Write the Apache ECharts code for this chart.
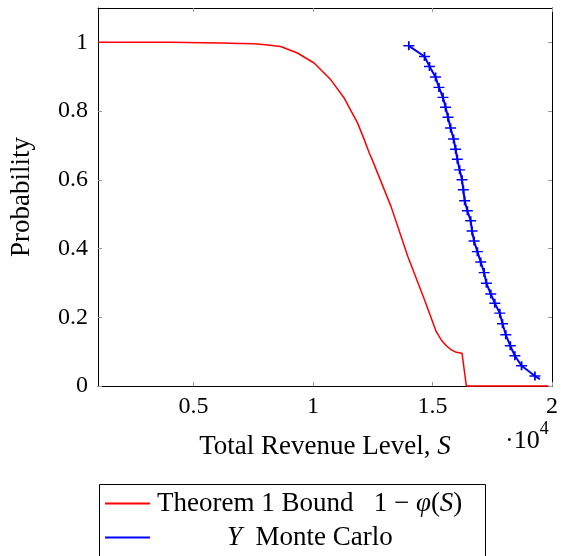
<!DOCTYPE html>
<html>
<head>
<meta charset="utf-8">
<script src="https://cdn.jsdelivr.net/npm/echarts@6/dist/echarts.min.js"></script>
<style>
html,body{margin:0;padding:0;background:#fff;}
#chart{width:562px;height:556px;}
</style>
</head>
<body>
<div id="chart"></div>
<script>
// Red: Theorem 1 bound 1 - phi(S)
const redS = [1000, 4000, 6122, 7000, 7521, 8000, 8643, 9345, 10042, 10744, 11303, 11866, 12143, 12353, 12479, 13265, 13966, 14664, 15156, 15366, 15576, 15786, 15996, 16235, 16416, 19849];
const redP = [1, 1, 0.998, 0.997, 0.996, 0.993, 0.988, 0.969, 0.940, 0.891, 0.838, 0.765, 0.717, 0.678, 0.658, 0.522, 0.377, 0.251, 0.158, 0.134, 0.117, 0.105, 0.098, 0.095, 0, 0];
// Blue: Y Monte Carlo
const blueS = [14008, 14664, 14874, 15126, 15269, 15437, 15546, 15647, 15756, 15882, 15966, 16038, 16134, 16235, 16290, 16345, 16458, 16597, 16655, 16739, 16878, 17017, 17160, 17256, 17437, 17605, 17815, 17929, 18067, 18255, 18445, 18727, 19286, 19496];
const blueP = [0.990, 0.959, 0.930, 0.899, 0.869, 0.840, 0.811, 0.782, 0.751, 0.719, 0.689, 0.660, 0.629, 0.600, 0.571, 0.539, 0.510, 0.481, 0.451, 0.422, 0.391, 0.361, 0.330, 0.299, 0.268, 0.241, 0.212, 0.181, 0.149, 0.117, 0.088, 0.059, 0.029, 0.020];
// Ticks
const xTicks = [5000, 10000, 15000, 20000];
const yTicks = [0, 0.2, 0.4, 0.6, 0.8, 1];
const xRange = [1000, 20000];
const yRange = [0, 1.1];

const FONT = '"Liberation Serif", "DejaVu Serif", serif';
const FS = 27;      // text size
const TFS = 24;     // tick label size
const redName = 'Theorem 1 Bound';
const blueName = 'Y Monte Carlo';

const zip = (a, b) => a.map((v, i) => [v, b[i]]);
const plus = 'path://M0,4.2H4.2V0H5.8V4.2H10V5.8H5.8V10H4.2V5.8H0Z';

const tickStyle = {show: true, inside: true, length: 4, lineStyle: {color: '#999', width: 1}};
const lineStyleAxis = {show: true, onZero: false, lineStyle: {color: '#000', width: 1}};

const blueData = zip(blueS, blueP).map((p, i, arr) =>
  i === arr.length - 1 ? {value: p, symbol: 'none'} : p);

const chart = echarts.init(document.getElementById('chart'), null, {renderer: 'canvas'});
const richText = {
  i: {fontFamily: FONT, fontSize: FS, fontStyle: 'italic', color: '#000'},
  n: {fontFamily: FONT, fontSize: FS, color: '#000'}
};
chart.setOption({
  animation: false,
  backgroundColor: '#fff',
  grid: {left: 98, top: 8, right: 10, bottom: 170, containLabel: false},
  xAxis: [{
    type: 'value', min: xRange[0], max: xRange[1], position: 'bottom',
    axisLine: lineStyleAxis,
    axisTick: Object.assign({customValues: xTicks}, tickStyle),
    splitLine: {show: false},
    axisLabel: {customValues: xTicks, formatter: v => String(v / 10000), fontFamily: FONT, fontSize: TFS, color: '#000', margin: 9},
    name: '{n|Total Revenue Level, }{i|S}',
    nameLocation: 'middle', nameGap: 47,
    nameTextStyle: {fontFamily: FONT, fontSize: FS, color: '#000', rich: richText}
  }, {
    type: 'value', min: xRange[0], max: xRange[1], position: 'top',
    axisLine: lineStyleAxis,
    axisTick: Object.assign({customValues: xTicks}, tickStyle),
    splitLine: {show: false}, axisLabel: {show: false}
  }],
  yAxis: [{
    type: 'value', min: yRange[0], max: yRange[1], position: 'left',
    axisLine: lineStyleAxis,
    axisTick: Object.assign({customValues: yTicks}, tickStyle),
    splitLine: {show: false},
    axisLabel: {customValues: yTicks, fontFamily: FONT, fontSize: TFS, color: '#000', margin: 10},
    name: 'Probability', nameLocation: 'middle', nameGap: 63, nameRotate: 90,
    nameTextStyle: {fontFamily: FONT, fontSize: FS, color: '#000'}
  }, {
    type: 'value', min: yRange[0], max: yRange[1], position: 'right',
    axisLine: lineStyleAxis,
    axisTick: Object.assign({customValues: yTicks}, tickStyle),
    splitLine: {show: false}, axisLabel: {show: false}
  }],
  legend: [{
    data: [{name: redName}],
    orient: 'vertical', left: 105, top: 490, padding: 0,
    icon: 'rect', itemWidth: 45, itemHeight: 2,
    formatter: () => '{n|Theorem 1 Bound   1 − }{i|φ}{n|(}{i|S}{n|)}',
    textStyle: {fontFamily: FONT, fontSize: FS, color: '#000', padding: [0, 0, 0, 2], rich: richText}
  }, {
    data: [{name: blueName}],
    orient: 'vertical', left: 105, top: 524, padding: 0,
    icon: 'rect', itemWidth: 45, itemHeight: 2,
    formatter: () => '{i|Y}{n|  Monte Carlo}',
    textStyle: {fontFamily: FONT, fontSize: FS, color: '#000', padding: [0, 0, 0, 72], rich: richText}
  }],
  graphic: [{
    type: 'rect', left: 97, top: 482, z: 0,
    shape: {width: 386, height: 90},
    style: {fill: 'none', stroke: '#000', lineWidth: 1}
  }, {
    type: 'text', left: 505, top: 420,
    style: {
      text: '{n|·10}{s|4}',
      rich: {
        n: {fontFamily: FONT, fontSize: 26, fill: '#000', padding: [8, 0, 0, 0]},
        s: {fontFamily: FONT, fontSize: 18, fill: '#000', verticalAlign: 'top'}
      }
    }
  }],
  series: [{
    name: redName, type: 'line', xAxisIndex: 0, yAxisIndex: 0,
    data: zip(redS, redP), showSymbol: false, symbol: 'none', clip: false,
    lineStyle: {color: '#ff0000', width: 1.5}, itemStyle: {color: '#ff0000'}, z: 3
  }, {
    name: blueName, type: 'line', xAxisIndex: 0, yAxisIndex: 0,
    data: blueData, symbol: plus, symbolSize: [11, 9], showSymbol: true,
    lineStyle: {color: '#0000ff', width: 2}, itemStyle: {color: '#0000ff'}, z: 4
  }]
});
</script>
</body>
</html>
